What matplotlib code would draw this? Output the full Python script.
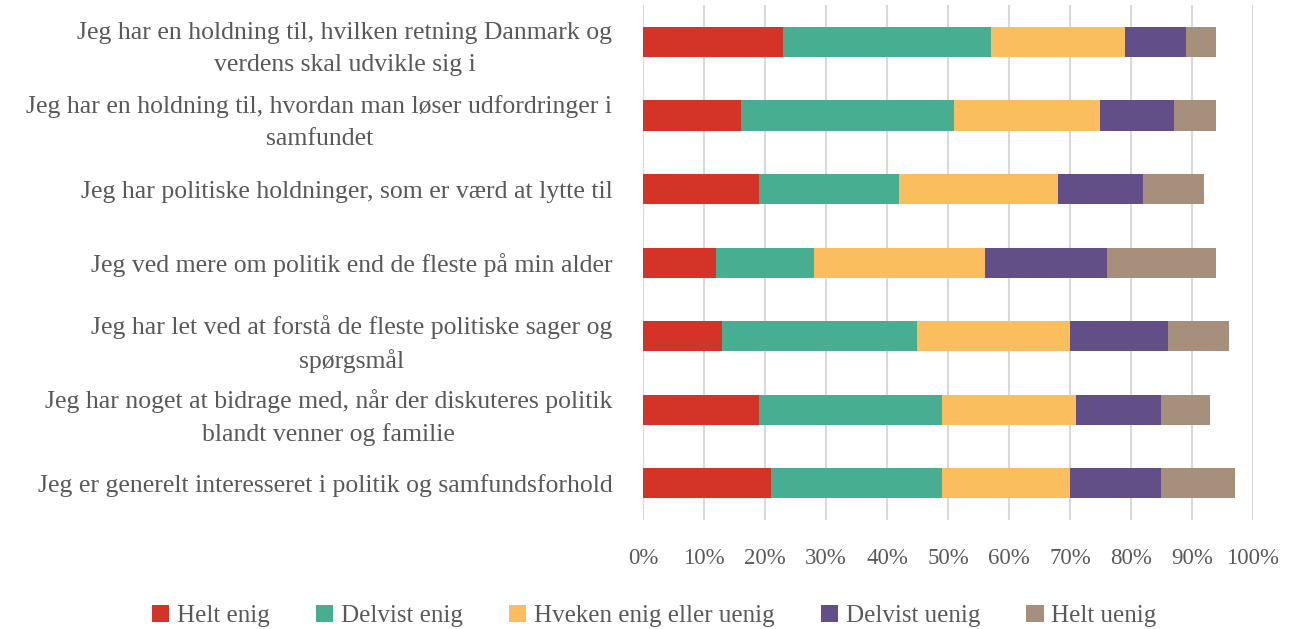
import matplotlib
matplotlib.use('Agg')
import matplotlib.pyplot as plt
from matplotlib.ticker import FuncFormatter

# statements, top to bottom
statements = [
    "Jeg har en holdning til, hvilken retning Danmark og\nverdens skal udvikle sig i",
    "Jeg har en holdning til, hvordan man løser udfordringer i\nsamfundet",
    "Jeg har politiske holdninger, som er værd at lytte til",
    "Jeg ved mere om politik end de fleste på min alder",
    "Jeg har let ved at forstå de fleste politiske sager og\nspørgsmål",
    "Jeg har noget at bidrage med, når der diskuteres politik\nblandt venner og familie",
    "Jeg er generelt interesseret i politik og samfundsforhold",
]

answers = ["Helt enig", "Delvist enig", "Hveken enig eller uenig", "Delvist uenig", "Helt uenig"]
colors = ["#D33427", "#48AE91", "#FABE5E", "#634F87", "#A68F7B"]

helt_enig     = [23, 16, 19, 12, 13, 19, 21]
delvist_enig  = [34, 35, 23, 16, 32, 30, 28]
hveken        = [22, 24, 26, 28, 25, 22, 21]
delvist_uenig = [10, 12, 14, 20, 16, 14, 15]
helt_uenig    = [5, 7, 10, 18, 10, 8, 12]
series = [helt_enig, delvist_enig, hveken, delvist_uenig, helt_uenig]

txt = '#595959'
plt.rcParams['font.family'] = ['Liberation Serif', 'DejaVu Serif']

fig = plt.figure(figsize=(12.95, 6.29), dpi=100)
ax = fig.add_axes([0.4965, 0.173, 0.471, 0.819])

y = list(range(len(statements)))
left = [0] * len(statements)
for vals, name, c in zip(series, answers, colors):
    ax.barh(y, vals, left=left, height=0.41, color=c, label=name, zorder=3)
    left = [l + v for l, v in zip(left, vals)]

ax.set_ylim(len(statements) - 0.5, -0.5)
ax.set_xlim(0, 100)
ax.set_xticks(range(0, 101, 10))
ax.xaxis.set_major_formatter(FuncFormatter(lambda v, p: f"{int(v)}%"))
ax.set_yticks(y)
ax.set_yticklabels(statements, multialignment='center', linespacing=1.55)
ax.tick_params(axis='y', length=0, pad=22, labelsize=18.5, labelcolor=txt)
ax.tick_params(axis='x', length=0, pad=20, labelsize=16.5, labelcolor=txt)
ax.grid(axis='x', color='#D9D9D9', linewidth=1.5, zorder=0)
for s in ax.spines.values():
    s.set_visible(False)

fig.legend(loc='lower center', ncol=5, frameon=False, fontsize=18,
           handlelength=0.7, handleheight=0.7, handletextpad=0.3,
           columnspacing=1.85, bbox_to_anchor=(0.505, -0.033), labelcolor=txt)

fig.savefig('out.png', dpi=100)
